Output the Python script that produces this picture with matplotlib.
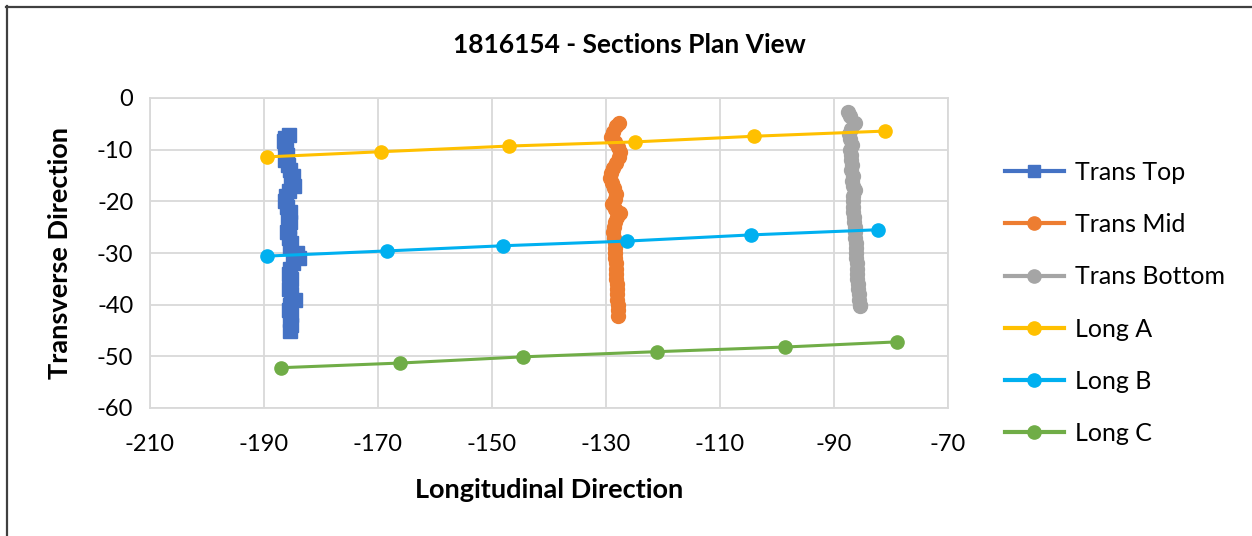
import matplotlib
matplotlib.use("Agg")
import matplotlib.pyplot as plt
from matplotlib.lines import Line2D

plt.rcParams['font.family'] = ['Lato', 'DejaVu Sans']
plt.rcParams['axes.unicode_minus'] = False

# section traces (x = longitudinal, y = transverse)
trans_top_x = [-185.6, -186.3, -186.5, -186.4, -186.2, -186.0, -186.3, -185.8, -185.5, -184.9,
               -185.3, -184.8, -185.6, -186.2, -186.3, -185.9, -185.5, -185.8, -185.4, -185.6,
               -185.9, -185.7, -185.3, -185.5, -184.2, -183.8, -185.0, -185.4, -185.6, -185.2,
               -185.4, -185.7, -185.3, -184.6, -185.4, -185.7, -185.2, -185.5, -185.3, -185.4]
trans_top_y = [-7.2, -7.8, -8.4, -9.0, -10, -11, -12, -13, -14, -15,
               -16, -17, -18, -19, -20, -21, -22, -23, -24, -25,
               -26, -27, -28, -29, -30, -31, -32, -33, -34, -35,
               -36, -37, -38, -39, -40, -41, -42, -43, -44, -45]

trans_mid_x = [-127.8, -128.3, -128.8, -129.2, -128.5, -127.9, -127.6, -127.8, -128.3, -128.8,
               -129.2, -129.3, -129.0, -128.6, -128.2, -128.5, -128.9, -128.5, -127.6, -128.0,
               -128.4, -128.6, -128.7, -128.6, -128.5, -128.5, -128.4, -128.4, -128.3, -128.3,
               -128.2, -128.2, -128.1, -128.1, -128.0, -128.0, -127.9, -127.9, -127.9]
trans_mid_y = [-4.8, -5.5, -6.5, -7.5, -8.5, -9.5, -10.5, -11.5, -12.5, -13.5,
               -14.5, -15.5, -16.5, -17.5, -18.5, -19.5, -20.5, -21.5, -22.2, -23,
               -24, -25, -26, -27, -28, -29, -30, -31, -32, -33,
               -34, -35, -36, -37, -38, -39, -40, -41, -42.2]

trans_bot_x = [-87.5, -87.2, -86.3, -87.0, -87.3, -87.2, -86.9, -87.2, -87.1, -87.0,
               -86.8, -87.0, -86.7, -86.8, -86.6, -86.4, -86.7, -86.7, -86.6, -86.6,
               -86.5, -86.5, -86.4, -86.4, -86.3, -86.2, -86.2, -86.1, -86.1, -86.0,
               -86.0, -85.9, -85.9, -85.8, -85.8, -85.7, -85.6, -85.5, -85.5]
trans_bot_y = [-2.8, -3.5, -4.8, -6, -7, -8, -9, -10, -11, -12,
               -13, -14, -15, -16, -17, -17.8, -19, -20, -21, -22,
               -23, -24, -25, -26, -27, -28, -29, -30, -31, -32,
               -33, -34, -35, -36, -37, -38, -39, -40, -40.3]

long_a_x = [-189.5, -169.5, -147.0, -125.0, -104.0, -81.0]
long_a_y = [-11.4, -10.4, -9.3, -8.5, -7.4, -6.4]
long_b_x = [-189.5, -168.5, -148.1, -126.4, -104.6, -82.3]
long_b_y = [-30.6, -29.6, -28.6, -27.7, -26.5, -25.5]
long_c_x = [-187.0, -166.1, -144.6, -121.1, -98.6, -78.9]
long_c_y = [-52.2, -51.3, -50.1, -49.1, -48.2, -47.2]

labels = ["Trans Top", "Trans Mid", "Trans Bottom", "Long A", "Long B", "Long C"]
colors = ["#4472C4", "#ED7D31", "#A5A5A5", "#FFC000", "#00B0F0", "#70AD47"]

fig = plt.figure(figsize=(12.52, 5.36), dpi=100)
ax = fig.add_axes([150 / 1252, 1 - 408 / 536, 798 / 1252, 310 / 536])

series = [(trans_top_x, trans_top_y, 's'), (trans_mid_x, trans_mid_y, 'o'),
          (trans_bot_x, trans_bot_y, 'o'), (long_a_x, long_a_y, 'o'),
          (long_b_x, long_b_y, 'o'), (long_c_x, long_c_y, 'o')]
handles = []
for i, ((xs, ys, m), lab, c) in enumerate(zip(series, labels, colors)):
    if m == 's':
        ms = 9.5
    elif i < 3:
        ms = 10
    else:
        ms = 9.5
    ax.plot(xs, ys, color=c, lw=2.2, marker=m, ms=ms, mec=c, mfc=c,
            solid_capstyle='round', label=lab, zorder=3)
    handles.append(Line2D([], [], color=c, lw=3, marker=m, ms=9.5 if m == 'o' else 8.5,
                          mec=c, mfc=c))

ax.set_xlim(-210, -70)
ax.set_ylim(-60, 0)
ax.set_xticks(range(-210, -69, 20))
ax.set_yticks(range(-60, 1, 10))
ax.grid(True, color="#D9D9D9", lw=1.3, zorder=0)
for s in ax.spines.values():
    s.set_color("#D9D9D9")
    s.set_linewidth(1.3)
ax.tick_params(length=0, labelsize=17, colors="#000000")
ax.tick_params(axis='x', pad=19)
ax.tick_params(axis='y', pad=12)

fig.text(0.503, 1 - 45 / 536, "1816154 - Sections Plan View", ha='center', va='center',
         fontsize=19, fontweight='bold')
fig.text(549 / 1252, 1 - 490 / 536, "Longitudinal Direction", ha='center', va='center',
         fontsize=19.5, fontweight='bold')
fig.text(60 / 1252, 1 - 253 / 536, "Transverse Direction", ha='center', va='center',
         rotation=90, fontsize=19.5, fontweight='bold')

fig.legend(handles, labels, loc='center left', bbox_to_anchor=(1005 / 1252, 1 - 303 / 536),
           frameon=False, fontsize=18, handlelength=2.35, handletextpad=0.45,
           labelspacing=1.17, borderpad=0, borderaxespad=0)

# outer chart border (top and left edges visible)
fig.add_artist(Line2D([6 / 1252, 1.0], [1 - 6.5 / 536] * 2, color="#404040", lw=1.6))
fig.add_artist(Line2D([6.5 / 1252] * 2, [0, 1 - 6 / 536], color="#404040", lw=1.6))

fig.savefig("out.png", dpi=100, facecolor="white")
